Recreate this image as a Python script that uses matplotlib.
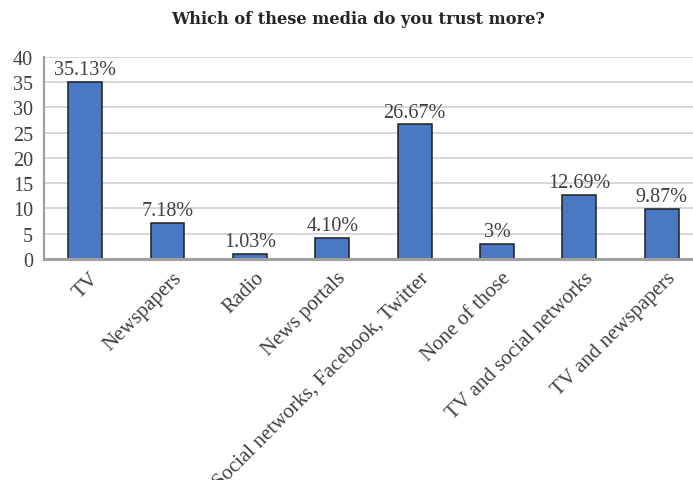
import numpy as np
import matplotlib.pyplot as plt
from matplotlib.transforms import ScaledTranslation

categories = ['TV', 'Newspapers', 'Radio', 'News portals',
              'Social networks, Facebook, Twitter', 'None of those',
              'TV and social networks', 'TV and newspapers']
shares = [35.13, 7.18, 1.03, 4.10, 26.67, 3, 12.69, 9.87]
share_labels = ['35.13%', '7.18%', '1.03%', '4.10%', '26.67%', '3%', '12.69%', '9.87%']
y_ticks = [0, 5, 10, 15, 20, 25, 30, 35, 40]

serif = 'Liberation Serif'
text_color = '#404040'

fig = plt.figure(figsize=(6.93, 4.81), dpi=100)
ax = fig.add_axes([0.0635, 0.4595, 0.9365, 0.42])

x = np.arange(len(categories))
bars = ax.bar(x, shares, width=0.41, color='#4a78c2', edgecolor='#1f1f1f',
              linewidth=1.1, zorder=3)

for b, lab in zip(bars, share_labels):
    ax.annotate(lab, (b.get_x() + b.get_width() / 2, b.get_height()),
                xytext=(0, 2), textcoords='offset points', ha='center', va='bottom',
                fontsize=14.5, family=serif, color=text_color, zorder=4)

ax.set_xlim(-0.5, 7.38)
ax.set_ylim(0, 40)
ax.set_yticks(y_ticks)
ax.yaxis.grid(True, color='#d4d4d4', linewidth=1.3, zorder=0)
ax.set_axisbelow(True)

# category names: rotated, right end just past each bar centre
ax.set_xticks(x)
ax.set_xticklabels([])
ax.tick_params(axis='x', length=0)
shift = ScaledTranslation(8 / 72, -11.5 / 72, fig.dpi_scale_trans)
for xi, name in zip(x, categories):
    ax.text(xi, 0, name, transform=ax.get_xaxis_transform() + shift,
            rotation=45, rotation_mode='anchor', ha='right', va='center',
            fontsize=15, family=serif, color=text_color, clip_on=False)

ax.tick_params(axis='y', length=0, pad=8, labelsize=14.5, labelcolor=text_color)
for lbl in ax.get_yticklabels():
    lbl.set_family(serif)

for s in ['top', 'right']:
    ax.spines[s].set_visible(False)
ax.spines['bottom'].set_color('#a0a0a0')
ax.spines['bottom'].set_linewidth(2.2)
ax.spines['bottom'].set_zorder(5)
ax.spines['left'].set_color('#a0a0a0')
ax.spines['left'].set_linewidth(1.6)

fig.text(0.517, 0.96, 'Which of these media do you trust more?', ha='center', va='center',
         fontsize=11.7, fontweight='bold', family='DejaVu Serif', color='#262626')

fig.savefig('out.png', dpi=100)
